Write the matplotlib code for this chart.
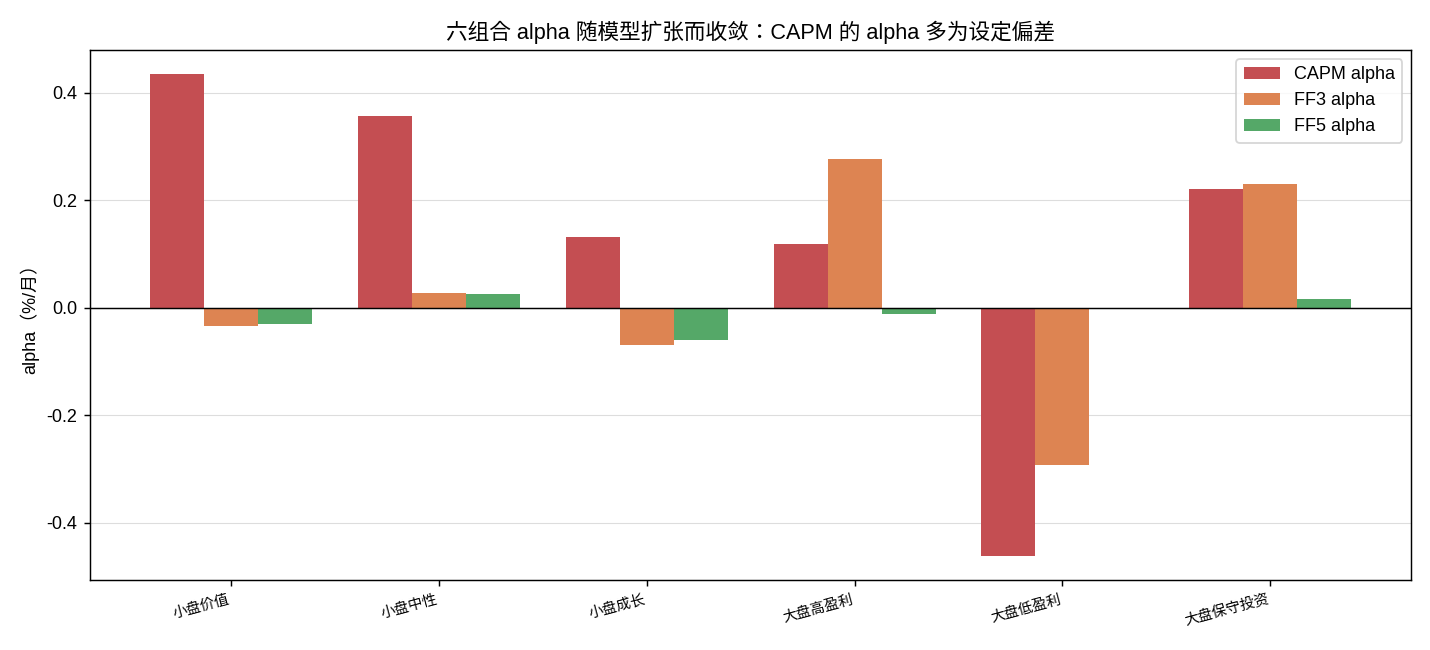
import matplotlib.pyplot as plt
import numpy as np

plt.rcParams['font.family'] = ['Liberation Sans', 'Noto Sans CJK KR', 'DejaVu Sans']
plt.rcParams['axes.unicode_minus'] = False

portfolios = ['小盘价值', '小盘中性', '小盘成长', '大盘高盈利', '大盘低盈利', '大盘保守投资']
capm_alpha = [0.435, 0.357, 0.132, 0.119, -0.461, 0.221]
ff3_alpha = [-0.033, 0.028, -0.069, 0.277, -0.292, 0.231]
ff5_alpha = [-0.030, 0.026, -0.060, -0.011, 0.0, 0.017]

series = [('CAPM alpha', capm_alpha, '#c44e52'),
          ('FF3 alpha', ff3_alpha, '#dd8452'),
          ('FF5 alpha', ff5_alpha, '#55a868')]

fig, ax = plt.subplots(figsize=(11, 5), dpi=130)
fig.subplots_adjust(left=0.063, right=0.987, top=0.923, bottom=0.108)

x = np.arange(len(portfolios))
width = 0.26
for i, (name, vals, color) in enumerate(series):
    ax.bar(x + (i - 1) * width, vals, width, label=name, color=color, zorder=2)

ax.axhline(0, color='black', linewidth=0.8, zorder=3)
ax.yaxis.grid(True, color='#dddddd', linewidth=0.6, zorder=0)
ax.set_axisbelow(True)

ax.set_xticks(x)
ax.set_xticklabels(portfolios, rotation=15, ha='right', fontsize=8)
ax.tick_params(axis='y', labelsize=10)
ax.set_ylabel('alpha（%/月）', fontsize=10)
ax.set_title('六组合 alpha 随模型扩张而收敛：CAPM 的 alpha 多为设定偏差', fontsize=12)
ax.legend(loc='upper right', fontsize=10)

plt.savefig('out.png', dpi=130)
